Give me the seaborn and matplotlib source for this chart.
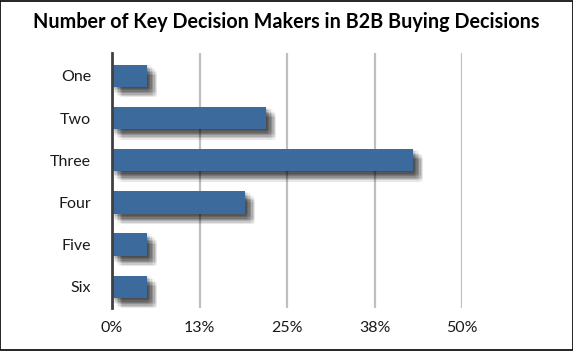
import matplotlib
matplotlib.use("Agg")
import matplotlib.pyplot as plt
import matplotlib.patheffects as pe
import seaborn as sns
import pandas as pd

categories = ["One", "Two", "Three", "Four", "Five", "Six"]
values = [5, 22, 43, 19, 5, 5]
tick_values = [0, 12.5, 25, 37.5, 50]
tick_labels = ["0%", "13%", "25%", "38%", "50%"]
title = "Number of Key Decision Makers in B2B Buying Decisions"

df = pd.DataFrame({"cat": categories, "val": values})

sns.set_theme(style="white")
plt.rcParams["font.family"] = ["Lato", "DejaVu Sans"]

fig = plt.figure(figsize=(5.73, 3.51), dpi=100)
ax = fig.add_axes([112/573, 1 - 308/351, (462-112)/573, (308-53)/351])

sns.barplot(data=df, x="val", y="cat", orient="h", color="#3C6A9C",
            saturation=1, width=0.53, ax=ax, zorder=3)

# soft drop shadow approximated by stacked offset shadows
effects = []
offs = [0.5, 1.5, 2.5, 3.5, 4.5, 5.5, 6.5, 7.5]
for dx in offs:
    for dy in offs:
        if abs(dx - dy) <= 3.0:
            effects.append(pe.SimplePatchShadow(offset=(dx, -dy), shadow_rgbFace="black", alpha=0.022))
effects.append(pe.Normal())
for p in ax.patches:
    p.set_path_effects(effects)
    p.set_edgecolor("none")

ax.set_xlim(0, 50)
ax.set_ylim(5.5, -0.54)
ax.set_xticks(tick_values)
ax.set_xticklabels(tick_labels)
ax.set_xlabel("")
ax.set_ylabel("")
for x in tick_values[1:]:
    ax.axvline(x, color="#BFBFBF", lw=1.6, zorder=1)

for s in ["top", "right", "bottom"]:
    ax.spines[s].set_visible(False)
ax.spines["left"].set_color("#404040")
ax.spines["left"].set_linewidth(2)
ax.spines["left"].set_zorder(5)

ax.tick_params(axis="both", length=0, labelsize=11.5, colors="#1a1a1a")
ax.tick_params(axis="y", pad=15)
ax.tick_params(axis="x", pad=9)

fig.text(0.5, 1 - 22/351, title, ha="center", va="center",
         fontsize=14.2, fontweight="bold", color="black")

fig.patches.append(plt.Rectangle((0.0008, 0.0015), 0.9984, 0.997, transform=fig.transFigure,
                                 fill=False, edgecolor="black", lw=1.2))

fig.savefig("out.png", dpi=100)
